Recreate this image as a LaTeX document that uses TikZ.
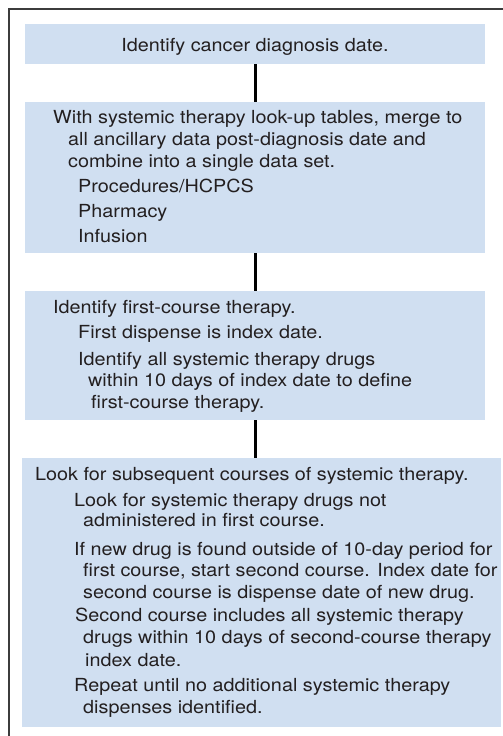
\documentclass[tikz,border=0pt]{standalone}
\usepackage{fontspec}
\setmainfont{TeX Gyre Heros}[FakeStretch=1.1]
\usepackage{xcolor}
\usepackage{tikz}
\definecolor{StageBlue}{HTML}{D0DFF1}
\definecolor{InkGray}{HTML}{231F20}
\definecolor{FrameGray}{HTML}{3C3C3C}

\begin{document}
\begin{tikzpicture}[x=1pt, y=-1pt,
  stage/.style={rectangle, fill=StageBlue, anchor=north west, inner sep=0pt},
  txt/.style={anchor=base west, inner sep=0pt, text=InkGray,
    font=\fontsize{18}{21.7}\selectfont},
  link/.style={draw=black, line width=3pt}
]
\useasboundingbox (0,0) rectangle (503,736);

% frame, open to the right and bottom
\draw[FrameGray, line width=1.5pt] (9,736) -- (9,9) -- (503,9);

% Stages
\node[stage, minimum width=460pt, minimum height=40pt]  (diag)  at (25,24)  {};
\node[stage, minimum width=460pt, minimum height=151pt] (merge) at (25,102) {};
\node[stage, minimum width=460pt, minimum height=129pt] (first) at (25,291) {};
\node[stage, minimum width=479pt, minimum height=269pt] (later) at (22,458) {};

% Links
\draw[link] (diag.south)  -- (merge.north);
\draw[link] (merge.south) -- (first.north);
\draw[link] (first.south) -- (first.south |- later.north);

% Stage 1
\node[txt, anchor=base] (diag-t) at (255,51.7) {Identify cancer diagnosis date.};

% Stage 2
\node[txt] (merge-1) at (53,123)   {With systemic therapy look-up tables, merge to};
\node[txt] (merge-2) at (68,145)   {all ancillary data post-diagnosis date and};
\node[txt] (merge-3) at (68,167)   {combine into a single data set.};
\node[txt] (merge-4) at (78,192.7) {Procedures/HCPCS};
\node[txt] (merge-5) at (78,217)   {Pharmacy};
\node[txt] (merge-6) at (78,242.7) {Infusion};

% Stage 3
\node[txt] (first-1) at (53,313)   {Identify first-course therapy.};
\node[txt] (first-2) at (78,338)   {First dispense is index date.};
\node[txt] (first-3) at (78,365)   {Identify all systemic therapy drugs};
\node[txt] (first-4) at (88,386.7) {within 10 days of index date to define};
\node[txt] (first-5) at (91,408)   {first-course therapy.};

% Stage 4
\node[txt] (later-1)  at (35,480)   {Look for subsequent courses of systemic therapy.};
\node[txt] (later-2)  at (74,506.7) {Look for systemic therapy drugs not};
\node[txt] (later-3)  at (83,526.7) {administered in first course.};
\node[txt] (later-4)  at (74,555)   {If new drug is found outside of 10-day period for};
\node[txt] (later-5)  at (83,576.7) {first course, start second course. Index date for};
\node[txt] (later-6)  at (83,598)   {second course is dispense date of new drug.};
\node[txt] (later-7)  at (75,621.7) {Second course includes all systemic therapy};
\node[txt] (later-8)  at (83,643.3) {drugs within 10 days of second-course therapy};
\node[txt] (later-9)  at (85,666.7) {index date.};
\node[txt] (later-10) at (74,691.7) {Repeat until no additional systemic therapy};
\node[txt] (later-11) at (83,713.3) {dispenses identified.};

\end{tikzpicture}
\end{document}
